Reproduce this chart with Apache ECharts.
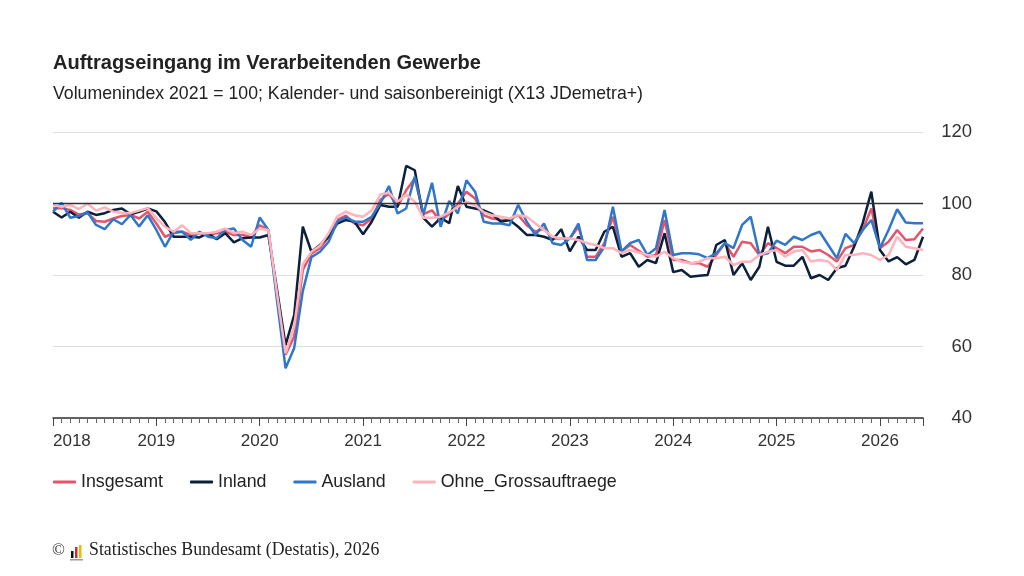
<!DOCTYPE html>
<html>
<head>
<meta charset="utf-8">
<title>Auftragseingang im Verarbeitenden Gewerbe</title>
<script src="https://cdn.jsdelivr.net/npm/echarts@6/dist/echarts.min.js"></script>
<style>
  html, body { margin: 0; padding: 0; background: #fff; }
  #chart { width: 1024px; height: 576px; }
</style>
</head>
<body>
<div id="chart"></div>
<script>
// first month on the axis is Jan 2018, one value per month up to Jun 2026
const START_YEAR = 2018

const insgesamt = [
  98.7, 98.7, 98.2, 96.9, 97.3, 95.1, 94.9, 95.8, 96.5, 96.8, 95.8, 97.7,
  94.4, 90.7, 91.7, 92.1, 91.2, 91.7, 91.2, 91.7, 92.1, 91.2, 91.2, 90.7,
  93.9, 92.6, 74.5, 57.7, 62.8, 81.4, 86.0, 87.5, 90.7, 95.4, 96.6, 94.4,
  93.9, 95.8, 101.0, 102.8, 99.1, 103.7, 107.0, 97.0, 98.1, 95.0, 97.2, 100.0,
  103.3, 101.4, 96.7, 95.8, 95.4, 95.4, 96.8, 93.9, 92.1, 93.0, 90.2, 90.2,
  90.2, 93.5, 85.1, 85.1, 88.9, 96.3, 86.6, 88.4, 86.8, 85.1, 85.6, 95.4,
  84.2, 84.2, 83.3, 83.3, 82.3, 85.6, 88.9, 85.1, 89.3, 88.9, 85.6, 88.9,
  87.5, 86.1, 87.9, 87.9, 86.6, 87.0, 85.6, 83.8, 87.5, 88.4, 92.6, 98.6,
  87.5, 89.3, 92.6, 89.8, 90.0, 93.0
]

const inland = [
  97.7, 96.1, 97.7, 96.0, 97.7, 96.8, 97.3, 98.2, 98.6, 97.0, 97.7, 98.6,
  97.8, 94.8, 90.7, 90.7, 90.7, 90.5, 91.7, 90.0, 91.7, 89.1, 90.3, 90.5,
  90.5, 91.2, 76.0, 60.4, 68.8, 93.5, 86.5, 88.4, 90.7, 94.4, 95.4, 94.9,
  91.4, 94.9, 99.6, 99.1, 99.1, 110.5, 109.3, 96.0, 93.5, 96.0, 94.5, 104.9,
  99.1, 98.6, 98.1, 97.0, 94.9, 95.4, 93.5, 91.2, 91.2, 90.7, 89.8, 92.8,
  86.6, 90.7, 87.0, 87.0, 92.1, 93.5, 85.1, 86.1, 82.3, 84.2, 83.3, 91.7,
  80.8, 81.4, 79.5, 79.8, 80.0, 88.4, 89.8, 80.0, 83.3, 78.6, 82.3, 93.5,
  83.7, 82.6, 82.6, 85.1, 79.1, 80.0, 78.6, 81.9, 82.6, 87.9, 94.5, 103.3,
  87.0, 83.8, 85.0, 83.0, 84.2, 90.7
]

const ausland = [
  97.7, 100.2, 96.0, 96.5, 97.6, 94.0, 92.8, 95.6, 94.2, 96.8, 93.6, 96.7,
  92.6, 87.9, 92.1, 92.1, 89.8, 92.1, 90.7, 90.3, 92.6, 93.0, 89.8, 87.9,
  96.1, 92.6, 73.0, 53.9, 59.6, 75.5, 85.0, 86.5, 89.3, 94.9, 96.1, 94.9,
  94.9, 96.3, 100.0, 104.9, 97.2, 98.6, 107.5, 97.0, 105.8, 93.5, 100.7, 97.2,
  106.5, 103.3, 94.9, 94.4, 94.4, 93.9, 99.6, 94.9, 91.2, 94.4, 88.9, 88.4,
  90.2, 94.4, 84.2, 84.2, 87.9, 99.1, 86.6, 88.9, 89.8, 85.6, 87.5, 98.2,
  85.6, 86.1, 86.1, 85.8, 84.7, 86.1, 88.9, 87.5, 94.0, 96.3, 85.6, 86.1,
  89.6, 88.4, 90.7, 89.8, 91.2, 92.1, 88.4, 84.7, 91.5, 88.9, 92.6, 95.4,
  87.5, 92.6, 98.4, 94.7, 94.5, 94.5
]

const ohneGross = [
  99.6, 99.1, 99.6, 98.4, 100.0, 98.0, 98.9, 97.7, 97.4, 97.3, 98.0, 98.7,
  95.9, 93.5, 92.1, 93.9, 91.7, 91.7, 91.7, 92.1, 93.0, 91.7, 92.1, 91.2,
  93.0, 92.6, 75.0, 58.1, 65.7, 83.0, 86.5, 88.2, 91.7, 96.4, 97.7, 96.7,
  96.3, 98.1, 102.5, 103.0, 100.5, 102.5, 100.5, 96.0, 96.0, 96.3, 97.5, 99.1,
  100.5, 99.5, 97.6, 96.7, 96.3, 95.8, 96.8, 96.3, 94.4, 92.6, 90.7, 90.2,
  90.2, 89.8, 88.9, 88.4, 87.5, 87.5, 86.1, 87.0, 86.3, 85.6, 85.1, 86.5,
  84.7, 83.7, 83.3, 83.7, 84.7, 84.7, 85.1, 82.8, 83.7, 83.7, 85.6, 86.5,
  87.0, 85.1, 86.6, 87.0, 83.8, 84.2, 83.8, 81.4, 85.6, 85.6, 86.1, 85.6,
  84.2, 85.6, 90.7, 87.9, 87.5, 87.0
]

const SERIES_NAMES = ['Insgesamt', 'Inland', 'Ausland', 'Ohne_Grossauftraege']
const SERIES_COLORS = ['#e5546b', '#0c1f3d', '#3077c9', '#ffb3bb']
const Y_TICKS = [40, 60, 80, 100, 120]

const FONT = '"Liberation Sans", Arial, sans-serif'
const SERIF = '"Liberation Serif", "Times New Roman", serif'

// [monthIndex, value] pairs for the value x axis
let toPairs = (arr) => arr.map((v, i) => [i, v])

let chart = echarts.init(document.getElementById('chart'), null, { renderer: 'canvas' })

let option = {
  backgroundColor: '#fff',
  animation: false,
  textStyle: { fontFamily: FONT },
  title: [
    {
      text: 'Auftragseingang im Verarbeitenden Gewerbe',
      left: 53,
      top: 53,
      padding: 0,
      textStyle: { fontSize: 20, fontWeight: 'bold', color: '#222', fontFamily: FONT }
    },
    {
      text: 'Volumenindex 2021 = 100; Kalender- und saisonbereinigt (X13 JDemetra+)',
      left: 53,
      top: 85,
      padding: 0,
      textStyle: { fontSize: 17.7, fontWeight: 'normal', color: '#222', fontFamily: FONT }
    }
  ],
  legend: {
    left: 53,
    top: 473,
    padding: 0,
    icon: 'roundRect',
    itemWidth: 23,
    itemHeight: 3,
    itemGap: 27,
    textStyle: { fontSize: 17.8, color: '#222', fontFamily: FONT },
    data: SERIES_NAMES
  },
  grid: { left: 53, right: 101, top: 132, bottom: 158 },
  xAxis: {
    type: 'value',
    min: 0,
    max: insgesamt.length - 1,
    interval: 12,
    axisLine: { show: true, onZero: false, lineStyle: { color: '#333', width: 1.5 } },
    axisTick: { show: true, length: 8, lineStyle: { color: '#444' } },
    minorTick: { show: true, splitNumber: 12, length: 5, lineStyle: { color: '#666' } },
    splitLine: { show: false },
    axisLabel: {
      fontSize: 17,
      color: '#333',
      margin: 15,
      alignMinLabel: 'left',
      showMaxLabel: false,
      formatter: (v) => (v % 12 === 0 ? String(START_YEAR + v / 12) : '')
    }
  },
  yAxis: {
    type: 'value',
    position: 'right',
    min: Y_TICKS[0],
    max: Y_TICKS[Y_TICKS.length - 1],
    interval: 20,
    axisLine: { show: false },
    axisTick: { show: false },
    axisLabel: { fontSize: 18.5, color: '#333', margin: 49, align: 'right' },
    splitLine: { lineStyle: { color: '#dedede', width: 1 } }
  },
  series: [insgesamt, inland, ausland, ohneGross].map((arr, k) => {
    let s = {
      name: SERIES_NAMES[k],
      type: 'line',
      data: toPairs(arr),
      symbol: 'none',
      showSymbol: false,
      color: SERIES_COLORS[k],
      lineStyle: { width: 2.5, color: SERIES_COLORS[k] },
      emphasis: { disabled: true }
    }
    if (k === 0) {
      // index base line at 100
      s.markLine = {
        silent: true,
        symbol: 'none',
        label: { show: false },
        lineStyle: { color: '#333', width: 1.3, type: 'solid' },
        data: [{ yAxis: 100 }]
      }
    }
    return s
  }),
  graphic: [
    {
      type: 'text',
      left: 52,
      top: 542,
      style: { text: '©', font: '17px ' + SERIF, fill: '#333' }
    },
    // small Destatis bar logo
    { type: 'rect', shape: { x: 71, y: 551, width: 2.5, height: 7 }, style: { fill: '#111' } },
    { type: 'rect', shape: { x: 75, y: 547, width: 2.5, height: 11 }, style: { fill: '#d9252b' } },
    { type: 'rect', shape: { x: 79, y: 545, width: 2.5, height: 13 }, style: { fill: '#f2b700' } },
    { type: 'rect', shape: { x: 70, y: 559, width: 13, height: 1.5 }, style: { fill: '#999' } },
    {
      type: 'text',
      left: 89,
      top: 541,
      style: { text: 'Statistisches Bundesamt (Destatis), 2026', font: '17.8px ' + SERIF, fill: '#222' }
    }
  ]
}

chart.setOption(option)
</script>
</body>
</html>
